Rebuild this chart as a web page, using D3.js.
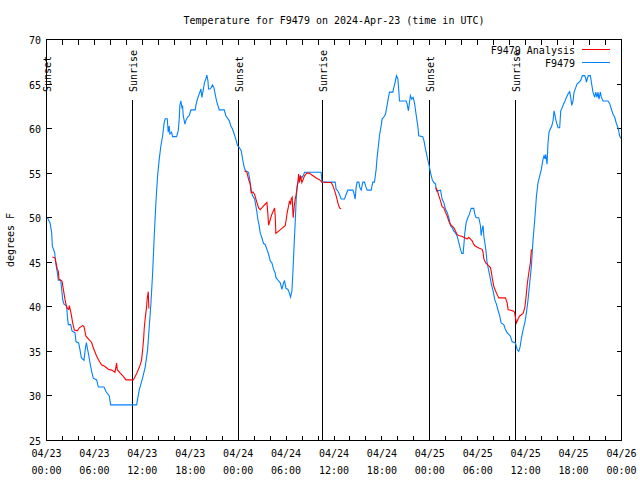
<!DOCTYPE html>
<html><head><meta charset="utf-8">
<script src="https://cdn.jsdelivr.net/npm/d3@7"></script>
<style>
html,body{margin:0;padding:0;background:#fff;}
text{font-family:"DejaVu Sans Mono","Liberation Mono",monospace;font-size:10px;fill:#000;}
</style></head>
<body><svg id="c" width="640" height="480"></svg>
<script>
// ---- data (hours since 2024-04-23 00:00 UTC, degrees F) ----
const stationHours = [0.11,0.44,0.65,0.73,1.02,1.15,1.36,1.48,1.78,1.90,2.03,2.19,2.53,2.61,2.73,3.03,3.19,3.57,3.69,4.03,4.19,4.36,4.69,4.82,4.99,5.11,5.28,5.45,5.65,5.86,6.28,6.49,7.20,7.45,7.86,8.03,11.28,11.62,12.03,12.37,12.66,12.87,13.08,13.29,13.49,13.70,13.91,14.12,14.33,14.54,14.74,14.87,15.12,15.24,15.37,15.45,15.66,15.79,16.29,16.50,16.62,16.70,16.83,16.95,17.04,17.12,17.33,17.45,17.66,17.87,18.08,18.62,18.71,18.83,19.04,19.21,19.33,19.46,19.62,19.79,19.96,20.08,20.21,20.29,20.46,20.62,20.79,20.96,21.12,21.29,21.46,21.63,22.25,22.46,22.67,22.88,23.08,23.29,23.50,23.71,23.92,24.13,24.39,24.55,24.72,24.89,25.3,25.51,25.64,25.81,26.06,26.22,26.35,26.47,26.64,26.76,26.97,27.18,27.39,27.6,27.81,28.02,28.22,28.43,28.64,28.72,29.06,29.27,29.48,29.68,29.81,29.98,30.23,30.39,30.56,30.73,30.85,30.98,31.14,31.27,31.39,31.56,31.77,31.98,32.14,32.31,34.4,34.48,36.15,36.27,36.48,36.69,36.9,37.32,37.52,37.73,38.36,38.48,38.65,38.77,38.9,39.11,39.23,39.4,39.61,39.82,39.94,40.15,40.65,40.86,41.07,41.28,41.4,41.57,41.69,41.9,42.03,42.24,42.44,42.65,42.82,42.95,43.36,43.49,43.65,43.82,43.99,44.11,44.2,45.03,45.15,45.32,45.45,45.57,45.74,45.91,46.07,46.28,46.49,46.61,47.11,47.25,47.46,47.67,47.88,48.08,48.29,48.5,48.71,48.83,49.34,49.54,49.75,49.96,50.17,50.38,50.59,50.8,51.0,51.21,51.42,51.63,51.84,52.0,52.17,52.25,52.38,52.55,52.75,52.96,53.17,53.5,53.63,53.8,54.13,54.34,54.42,54.59,54.67,54.76,54.92,55.05,55.17,55.34,55.51,55.72,55.92,56.13,56.34,56.51,56.76,56.92,57.26,57.47,57.68,57.88,58.09,58.3,58.72,58.93,59.13,59.3,59.47,59.68,59.89,60.09,60.3,60.51,60.72,60.93,61.14,61.35,61.55,61.76,61.97,62.18,62.3,62.43,62.51,62.68,62.8,62.93,63.1,63.26,63.43,63.56,63.68,63.85,64.06,64.26,64.39,64.6,64.76,64.93,65.1,65.31,65.51,65.64,65.77,65.93,66.06,66.27,66.43,66.68,66.89,67.1,67.39,67.52,67.6,67.73,67.85,68.1,68.23,68.43,68.64,68.77,68.93,69.06,69.18,69.35,69.48,69.69,70.31,70.52,70.73,70.94,71.14,71.35,71.56,71.77,71.9];
const stationTemps = [50.0,49.45,48.3,46.8,46.1,44.95,43.8,43.0,43.0,41.95,40.8,40.3,40.1,38.95,38.0,38.0,37.3,37.1,36.1,35.95,35.2,34.3,34.0,35.0,36.0,35.4,34.6,33.7,32.75,32.0,31.8,31.0,31.0,30.5,30.0,29.0,29.0,30.7,32.0,33.3,35.2,37.8,40.45,43.8,47.95,51.7,54.7,56.6,58.1,59.2,60.7,61.1,61.1,59.6,60.3,59.4,59.6,59.1,59.1,59.8,61.1,62.6,63.1,62.4,62.6,61.45,60.5,60.9,61.3,61.45,62.1,62.1,62.6,63.1,63.7,64.1,64.45,63.5,64.3,65.2,65.6,66.0,65.4,64.45,64.45,64.6,64.9,64.6,63.9,63.1,62.6,62.1,62.1,61.45,61.15,60.9,60.3,59.95,59.4,58.8,58.1,57.9,57.5,56.6,55.8,55.3,55.1,53.95,53.0,52.45,52.1,51.3,50.6,49.8,49.05,48.3,47.75,47.1,47.0,46.45,45.9,45.15,44.95,44.2,43.8,43.3,42.9,42.7,41.95,42.7,42.9,42.1,41.95,41.6,41.1,41.8,43.8,46.45,49.45,52.1,53.6,54.3,54.7,54.5,54.7,55.1,55.1,54.0,54.0,53.2,53.0,52.6,52.1,52.1,52.6,53.1,53.1,52.8,52.1,53.4,54.0,54.0,53.4,53.1,54.0,54.0,53.6,53.1,53.1,54.0,54.0,55.45,56.8,58.1,59.2,60.3,61.1,61.3,61.6,62.6,63.5,64.1,64.1,64.6,65.2,65.95,65.6,64.3,63.1,63.1,62.8,62.0,62.95,63.7,63.3,63.5,62.95,61.6,60.3,59.2,59.1,58.7,57.7,56.8,56.0,55.1,54.3,53.95,53.8,53.0,53.1,52.1,51.7,50.95,50.6,50.0,49.1,48.9,48.5,48.3,47.95,47.2,46.45,46.0,46.0,46.8,48.3,49.45,50.0,50.4,51.05,51.05,50.4,50.0,50.0,49.1,48.0,48.9,49.1,47.95,47.0,46.1,44.95,44.2,43.45,42.5,41.8,40.8,40.3,39.7,38.95,38.2,38.0,37.45,37.1,36.9,36.7,36.1,35.95,35.2,35.0,35.5,36.5,37.45,38.2,39.3,40.8,42.7,44.6,47.6,49.8,52.45,53.95,54.7,55.45,56.6,56.95,56.6,57.1,56.0,58.45,59.6,60.0,60.25,60.9,62.0,61.45,60.7,60.1,60.1,62.0,62.4,62.8,63.1,63.5,63.9,64.15,63.5,62.6,63.1,64.1,64.6,65.0,65.2,65.4,65.95,65.95,65.65,65.2,65.65,65.95,65.95,65.2,64.1,63.5,64.1,63.5,64.1,63.3,64.1,63.5,63.1,63.1,62.8,62.2,61.6,61.3,60.6,60.1,59.2,58.9];

// analysis series; null separates the three runs
const analysisHours = [0.73,1.07,1.19,1.36,1.48,1.57,1.94,2.11,2.32,2.53,2.78,2.86,3.07,3.28,3.49,3.86,4.11,4.53,4.69,4.94,5.24,5.65,5.86,6.28,6.61,6.9,7.32,7.74,8.16,8.57,8.7,8.78,8.86,9.2,9.62,9.95,10.87,11.28,11.7,11.9,12.03,12.15,12.24,12.36,12.53,12.61,12.74,12.82,
 18,
 24.8,25.1,25.3,25.5,25.64,25.85,26.06,26.35,26.56,26.76,26.97,27.26,27.6,27.72,27.81,28.02,28.22,28.43,28.56,28.64,28.72,29.06,29.48,29.89,30.02,30.14,30.31,30.43,30.56,30.64,30.77,30.81,30.89,31.02,31.14,31.23,31.35,31.48,31.56,31.69,31.81,31.98,32.14,32.31,32.6,32.9,33.23,33.56,33.85,34.15,34.48,35.23,35.65,35.86,36.06,36.27,36.48,36.69,36.9,
 42,
 48.71,48.92,49.13,49.34,49.54,49.75,49.96,50.17,50.38,50.59,50.8,51.0,51.21,51.42,51.63,51.84,52.05,52.25,52.67,52.88,53.09,53.3,53.5,53.71,54.13,54.55,54.67,54.76,54.97,55.38,55.59,55.72,55.84,56.01,56.22,56.42,56.63,57.47,57.68,57.8,58.51,58.6,58.72,58.84,59.01,59.22,59.68,59.89,60.01,60.1,60.22,60.39,60.59,60.72];
const analysisTemps = [45.6,45.5,44.95,44.2,44.0,43.1,42.9,41.95,40.8,39.9,39.7,40.15,39.3,38.2,37.4,37.3,37.65,37.9,37.8,36.7,36.4,36.0,35.4,34.45,33.9,33.5,33.3,33.0,32.9,32.65,33.3,33.7,32.95,32.6,32.2,31.8,31.8,32.5,33.4,34.0,35.1,36.25,37.6,38.7,40.0,40.9,41.7,39.8,
 null,
 55.25,55.1,54.3,53.8,52.8,52.9,52.6,51.7,51.1,50.9,51.1,51.4,51.7,50.4,49.15,49.8,50.4,50.8,51.1,50.2,48.25,48.5,48.8,49.1,49.8,50.6,51.3,51.9,51.5,52.1,52.3,51.3,50.0,51.3,52.1,52.45,53.2,53.95,54.9,53.95,54.7,53.95,54.3,54.7,55.0,55.0,54.8,54.6,54.4,54.3,54.0,53.95,53.95,53.6,53.1,52.45,51.7,51.1,51.0,
 null,
 53.4,53.1,52.45,51.9,51.25,51.1,50.6,50.2,49.6,49.25,49.05,48.9,48.5,48.1,48.0,47.95,47.9,47.8,47.6,47.8,47.6,47.4,47.0,46.8,46.6,46.45,46.1,45.4,44.95,44.6,44.4,43.8,43.1,42.3,41.8,41.4,41.0,41.0,40.45,39.7,39.5,39.4,38.8,38.2,38.55,38.95,39.25,39.9,40.8,41.6,42.7,43.8,44.95,46.45];

const sunLabels = ["Sunset","Sunrise","Sunset","Sunrise","Sunset","Sunrise"];
const sunHours  = [0.0, 10.74, 24.0, 34.62, 48.0, 58.68];

const yTicks = [25,30,35,40,45,50,55,60,65,70];
const seriesNames = ["F9479 Analysis","F9479"];
const seriesColors = ["#ff0000","#0080ff"];
const titleText = "Temperature for F9479 on 2024-Apr-23 (time in UTC)";
const yLabel = "degrees F";

// ---- drawing ----
const t0 = Date.UTC(2024,3,23,0,0);
const toDate = h => new Date(t0 + h*3600e3);
const svg = d3.select("#c");
const L=46.5, R=621.5, T=39.5, B=440.5;
const x = d3.scaleUtc().domain([toDate(0), toDate(72)]).range([L,R]);
const y = d3.scaleLinear().domain([25,70]).range([B,T]);

svg.append("text").attr("x",(L+R)/2).attr("y",24).attr("text-anchor","middle").text(titleText);

// ticks (inward)
const tk = 5;
const g = svg.append("g").attr("stroke","#000").attr("stroke-width",1).attr("shape-rendering","crispEdges");
const minorTimes = d3.utcHour.every(2).range(toDate(0), toDate(72.01));
minorTimes.forEach(d=>{
  const xx = Math.round(x(d)-0.5)+0.5;
  g.append("line").attr("x1",xx).attr("x2",xx).attr("y1",B).attr("y2",B-tk);
  g.append("line").attr("x1",xx).attr("x2",xx).attr("y1",T).attr("y2",T+tk);
});
yTicks.forEach(v=>{
  const yy = Math.round(y(v)-0.5)+0.5;
  g.append("line").attr("x1",L).attr("x2",L+tk).attr("y1",yy).attr("y2",yy);
  g.append("line").attr("x1",R).attr("x2",R-tk).attr("y1",yy).attr("y2",yy);
  svg.append("text").attr("x",41).attr("y",yy+4).attr("text-anchor","end").text(v);
});

// x labels every 6 hours
const fmtD = d3.utcFormat("%m/%d"), fmtT = d3.utcFormat("%H:%M");
d3.utcHour.every(6).range(toDate(0), toDate(72.01)).forEach(d=>{
  const t = svg.append("text").attr("text-anchor","middle");
  t.append("tspan").attr("x",x(d)).attr("y",457).text(fmtD(d));
  t.append("tspan").attr("x",x(d)).attr("y",474).text(fmtT(d));
});

// frame
svg.append("rect").attr("x",L).attr("y",T).attr("width",R-L).attr("height",B-T)
  .attr("fill","none").attr("stroke","#000").attr("shape-rendering","crispEdges");

// sunrise/sunset
sunHours.forEach((h,i)=>{
  const xx = Math.round(x(toDate(h))-0.5)+0.5;
  svg.append("line").attr("x1",xx).attr("x2",xx).attr("y1",100).attr("y2",B)
    .attr("stroke","#000").attr("shape-rendering","crispEdges");
  svg.append("text").attr("transform",`translate(${xx+4},92) rotate(-90)`).attr("text-anchor","start").text(sunLabels[i]);
});

// y label
svg.append("text").attr("transform",`translate(14,240) rotate(-90)`).attr("text-anchor","middle").text(yLabel);

// series
const line = d3.line().defined(d=>d[1]!==null).x(d=>x(toDate(d[0]))).y(d=>y(d[1]));
const redData = analysisHours.map((h,i)=>[h,analysisTemps[i]]);
const blueData = stationHours.map((h,i)=>[h,stationTemps[i]]);
svg.append("path").attr("d",line(blueData)).attr("fill","none").attr("stroke",seriesColors[1]).attr("stroke-width",1.1);
svg.append("path").attr("d",line(redData)).attr("fill","none").attr("stroke",seriesColors[0]).attr("stroke-width",1.1);

// legend
seriesNames.forEach((n,i)=>{
  const yy = 50 + i*13;
  svg.append("text").attr("x",575).attr("y",yy+3.5).attr("text-anchor","end").text(n);
  svg.append("line").attr("x1",582).attr("x2",610).attr("y1",yy-0.5).attr("y2",yy-0.5)
    .attr("stroke",seriesColors[i]).attr("stroke-width",1);
});
</script></body></html>
